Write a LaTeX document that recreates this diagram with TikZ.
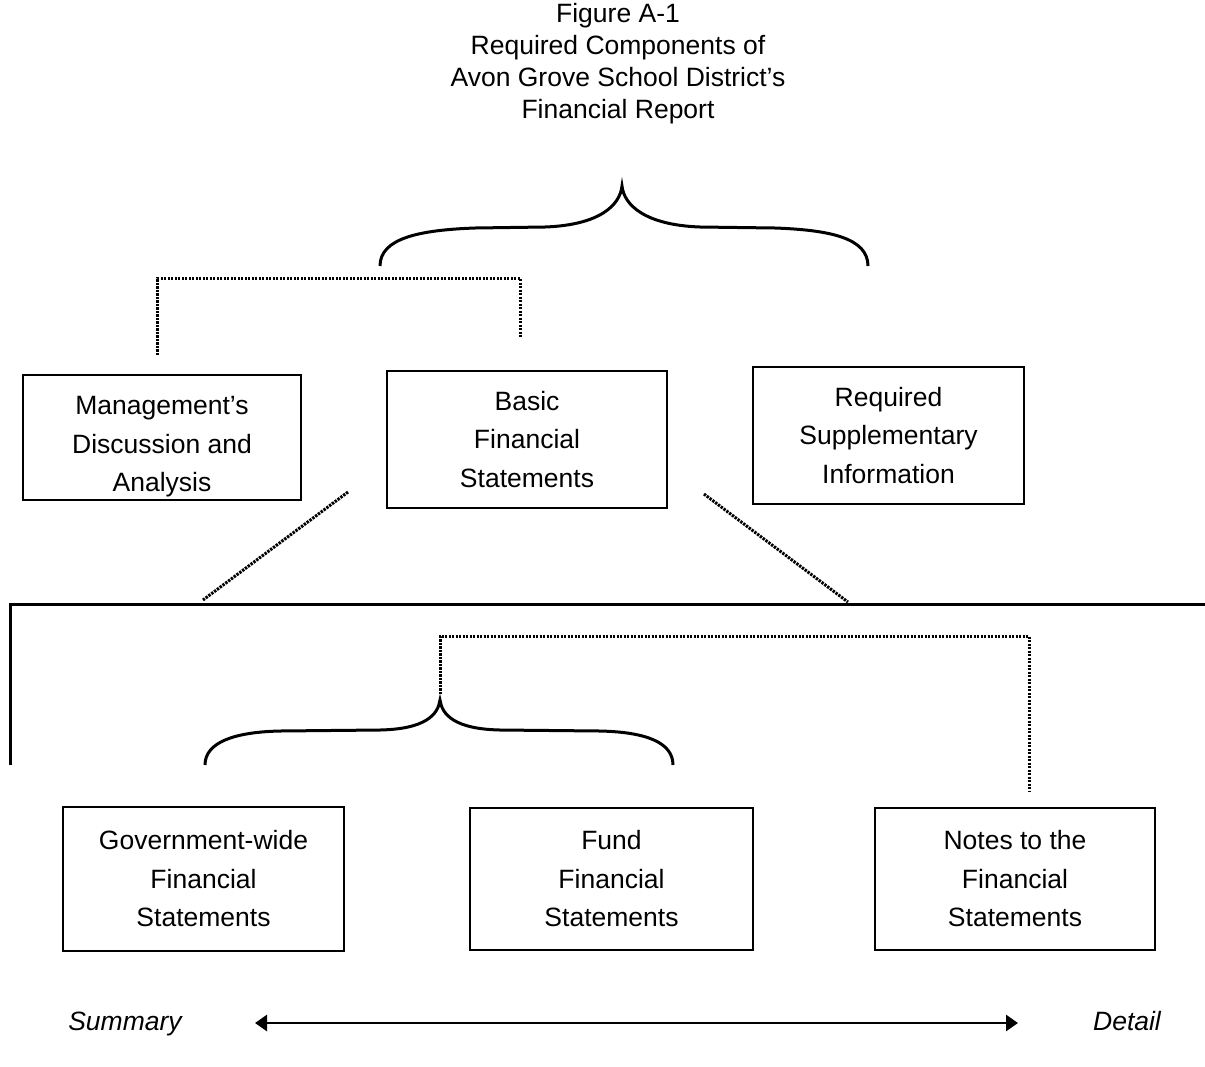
\documentclass[tikz,border=0pt]{standalone}
\usepackage{fontspec}
\setmainfont{Liberation Sans}
\usetikzlibrary{arrows.meta}
\begin{document}
\begin{tikzpicture}[x=1pt,y=-1pt,
  txt/.style={font=\fontsize{26.5}{38.5}\selectfont, align=center, inner sep=0pt},
  box/.style={draw, line width=1.4pt, txt},
  dotline/.style={line width=3pt, dash pattern=on 2.4pt off 1.1pt},
  brace/.style={line width=3pt},
  solidline/.style={line width=3pt},
  axis/.style={line width=2.8pt, {Triangle[width=16pt,length=12pt]}-{Triangle[width=16pt,length=12pt]}}
]
\useasboundingbox[fill=white] (0,0) rectangle (1205,1066);

% title
\node[txt, font=\fontsize{26.5}{32}\selectfont] (title) at (618,64)
  {Figure A-1\\Required Components of\\Avon Grove School District’s\\Financial Report};

% top boxes
\node[box, minimum width=278pt, minimum height=125pt] (mda) at (162,437.5)
  {\parbox[c][125pt][c]{270pt}{\centering\vspace*{19pt}Management’s\\Discussion and\\Analysis}};
\node[box, minimum width=280pt, minimum height=137pt] (bfs) at (527,439.5)
  {Basic\\Financial\\Statements};
\node[box, minimum width=271pt, minimum height=137pt] (rsi) at (888.5,435.5)
  {Required\\Supplementary\\Information};

% bottom boxes
\node[box, minimum width=281pt, minimum height=144pt] (gw) at (203.5,879)
  {Government-wide\\Financial\\Statements};
\node[box, minimum width=283pt, minimum height=142pt] (fund) at (611.5,879)
  {Fund\\Financial\\Statements};
\node[box, minimum width=280pt, minimum height=142pt] (notes) at (1015,879)
  {Notes to the\\Financial\\Statements};

% top brace
\coordinate (tb) at (622,186);
\draw[brace] (380,266) .. controls (380,238) and (420,230) .. (475,228)
  -- (545,227) .. controls (600,225) and (620,205) .. (tb)
  .. controls (624,205) and (645,225) .. (700,227)
  -- (775,228) .. controls (830,230) and (868,238) .. (868,266);

% top dotted bracket
\coordinate (d1) at (157,355);
\coordinate (d2) at (157,278);
\coordinate (d3) at (520,278);
\coordinate (d4) at (520,337);
\draw[dotline] (d1) -- (d2) -- (d3) -- (d4);

% diagonal dotted lines
\coordinate (g1) at (348,492);
\coordinate (g2) at (203,600);
\coordinate (g3) at (704,494);
\coordinate (g4) at (848,602);
\draw[dotline] (g1) -- (g2);
\draw[dotline] (g3) -- (g4);

% solid frame line
\coordinate (s1) at (10,765);
\coordinate (s2) at (10,604);
\coordinate (s3) at (1205,604);
\draw[solidline] (s1) -- (s2) -- (s3);

% inner dotted bracket
\coordinate (i1) at (440,694);
\coordinate (i2) at (440,636);
\coordinate (i3) at (1029,636);
\coordinate (i4) at (1029,792);
\draw[dotline] (i1) -- (i2) -- (i3) -- (i4);

% lower brace
\coordinate (lb) at (440,700);
\draw[brace] (205,765) .. controls (205,742) and (235,732) .. (280,731)
  -- (380,730) .. controls (425,729) and (438,715) .. (lb)
  .. controls (442,715) and (455,729) .. (500,730)
  -- (600,731) .. controls (645,732) and (673,742) .. (673,765);

% summary / detail axis
\node[txt, font=\fontsize{26.5}{31}\selectfont\itshape, anchor=base] (sum) at (125,1030) {Summary};
\node[txt, font=\fontsize{26.5}{31}\selectfont\itshape, anchor=base] (det) at (1127,1030) {Detail};
\coordinate (a1) at (255,1023);
\coordinate (a2) at (1018,1023);
\draw[axis] (a1) -- (a2);
\end{tikzpicture}
\end{document}
